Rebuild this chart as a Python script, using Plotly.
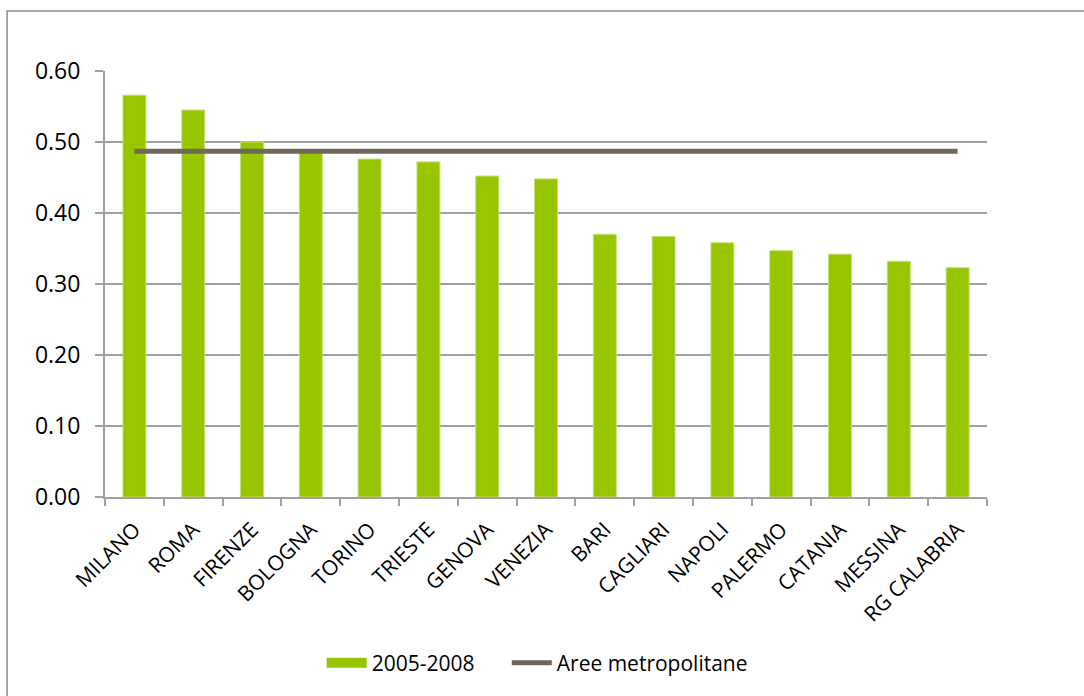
import plotly.graph_objects as go

# reference chart: share by city, 2005-2008, with the metropolitan average as a flat line
cities = ["MILANO", "ROMA", "FIRENZE", "BOLOGNA", "TORINO", "TRIESTE", "GENOVA", "VENEZIA",
          "BARI", "CAGLIARI", "NAPOLI", "PALERMO", "CATANIA", "MESSINA", "RG CALABRIA"]
values_2005_2008 = [0.566, 0.545, 0.500, 0.485, 0.476, 0.472, 0.452, 0.448,
                    0.370, 0.367, 0.358, 0.347, 0.342, 0.332, 0.323]
aree_metropolitane = [0.487] * len(cities)
y_ticks = [0.0, 0.1, 0.2, 0.3, 0.4, 0.5, 0.6]

GREEN = "#97C600"
LINE_COL = "#6F6757"
GRID = "#A0A0A0"
FONT = "Open Sans"

fig = go.Figure()
fig.add_trace(go.Bar(
    x=cities, y=values_2005_2008, name="2005-2008", showlegend=False,
    marker=dict(color=GREEN, line=dict(color="#C4DF78", width=1)),
))
# legend-only entry so the swatch is a wide block like in the original
# (nbsp padding gives the wider gap between the two legend items)
fig.add_trace(go.Scatter(
    x=[None], y=[None], name="2005-2008" + "\u00a0" * 5, mode="lines",
    line=dict(color=GREEN, width=15),
))
fig.add_trace(go.Scatter(
    x=cities, y=aree_metropolitane, name="Aree metropolitane", mode="lines",
    line=dict(color=LINE_COL, width=5),
))

# outer chart border (only left/top edges are visible in the picture)
fig.add_shape(type="rect", xref="paper", yref="paper",
              x0=-0.111, x1=1.3, y0=-0.6, y1=1.141,
              line=dict(color="#8C8C8C", width=1.5), layer="below")

fig.update_layout(
    width=1084, height=696,
    margin=dict(l=105, r=97, t=71, b=199),
    paper_bgcolor="white", plot_bgcolor="white",
    font=dict(family=FONT, size=21, color="black"),
    bargap=0.61,
    showlegend=True,
    legend=dict(orientation="h", x=0.49, xanchor="center", y=-0.39, yanchor="middle",
                font=dict(size=21), itemwidth=40, tracegroupgap=0),
)
fig.update_xaxes(
    tickangle=-45, ticks="outside", ticklen=7, tickcolor=GRID, tickwidth=2,
    showline=True, linecolor=GRID, linewidth=2, showgrid=False,
    tickson="boundaries", tickfont=dict(size=21), ticklabelstandoff=10,
)
fig.update_yaxes(
    range=[0, 0.6], tickvals=y_ticks, tickformat=".2f",
    ticks="outside", ticklen=8, tickcolor=GRID, tickwidth=2,
    showline=True, linecolor=GRID, linewidth=2,
    showgrid=True, gridcolor=GRID, gridwidth=1.5, zeroline=False,
    tickfont=dict(size=23), ticklabelstandoff=10,
)

fig.write_html("out.html", config={"displayModeBar": False},
               post_script="document.body.style.margin='0';")
